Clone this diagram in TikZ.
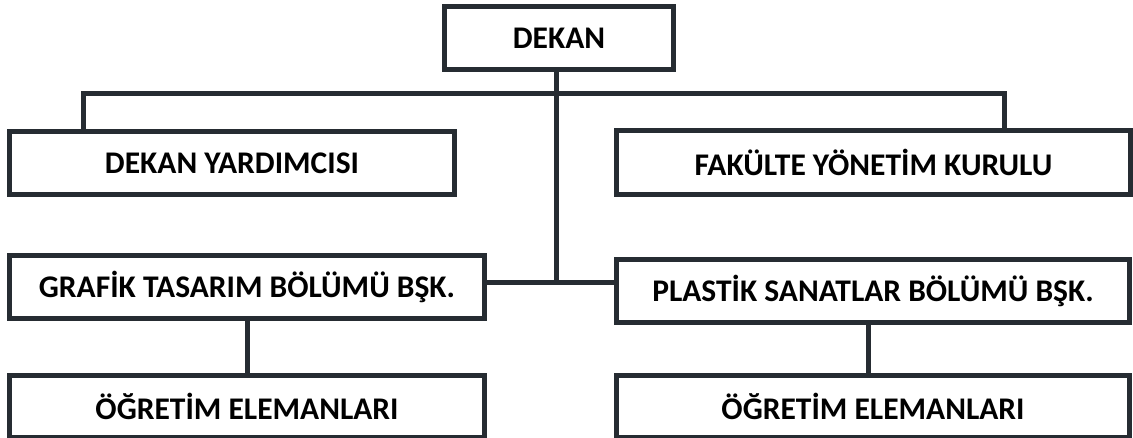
\documentclass[tikz,border=0pt]{standalone}
\usepackage{fontspec}
\setmainfont{Carlito}
\definecolor{strokecol}{RGB}{38,44,50}
\tikzset{
  unitbox/.style={draw=strokecol,line width=5pt,fill=white,inner sep=0pt,
    font=\fontsize{31.5}{37}\selectfont\bfseries,text=black},
  link/.style={draw=strokecol,line width=5pt},
}
\begin{document}
\begin{tikzpicture}[x=1pt,y=-1pt,line join=miter]
  \useasboundingbox (0,0) rectangle (1133,438);
%%
  % Node: dekan
  \node[unitbox,minimum width=229pt,minimum height=63pt] (dekan) at (559,38) {DEKAN};
  % Node: yard
  \node[unitbox,minimum width=445pt,minimum height=63pt] (yard) at (232,163) {DEKAN YARDIMCISI};
  % Node: fak
  \node[unitbox,minimum width=514pt,minimum height=64pt] (fak) at (873.5,162.5) {FAKÜLTE YÖNETİM KURULU};
  % Node: grafik
  \node[unitbox,minimum width=475pt,minimum height=63pt] (grafik) at (247,287) {GRAFİK TASARIM BÖLÜMÜ BŞK.};
  % Node: plastik
  \node[unitbox,minimum width=513pt,minimum height=63pt] (plastik) at (873,291) {PLASTİK SANATLAR BÖLÜMÜ BŞK.};
  % Node: ogrl
  \node[unitbox,minimum width=475pt,minimum height=62pt] (ogrl) at (247,406.5) {ÖĞRETİM ELEMANLARI};
  % Node: ogrr
  \node[unitbox,minimum width=513pt,minimum height=62pt] (ogrr) at (873,406.5) {ÖĞRETİM ELEMANLARI};
%
  \coordinate (lbend) at (83.5,94);
  \coordinate (rbend) at (1004,94);
  \coordinate (junc) at (556,282.5);
  % Edge: dekan -> junc
  \draw[link] (dekan.south -| junc) -- (junc);
  % Edge: yard -> fak
  \draw[link] (yard.north -| lbend) -- (lbend) -- (rbend) -- (fak.north -| rbend);
  % Edge: grafik -> plastik
  \draw[link] (grafik.east |- junc) -- (plastik.west |- junc);
  % Edge: grafik -> ogrl
  \draw[link] (grafik) -- (ogrl);
  % Edge: plastik -> ogrr
  \draw[link] ([xshift=-5pt]plastik.south) -- ([xshift=-5pt]ogrr.north);
%
\end{tikzpicture}
\end{document}
